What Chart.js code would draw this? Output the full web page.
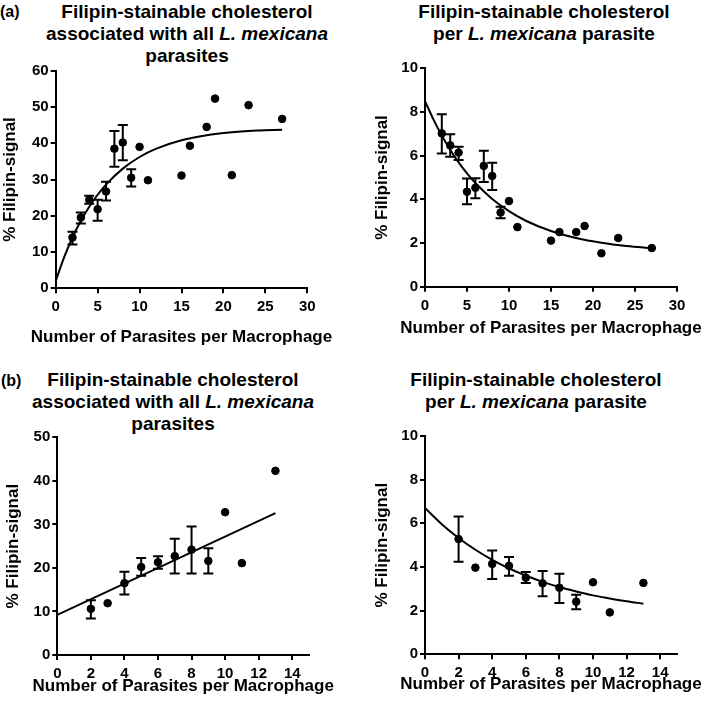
<!DOCTYPE html>
<html>
<head>
<meta charset="utf-8">
<script src="https://cdn.jsdelivr.net/npm/chart.js@4.4.1/dist/chart.umd.min.js"></script>
<style>
  html, body { margin: 0; padding: 0; background: #fff; }
  body { width: 709px; height: 704px; position: relative; overflow: hidden;
         font-family: 'Liberation Sans', Arial, sans-serif; color: #000; }
  .panel { position: absolute; }
  .ttl { position: absolute; font-weight: bold; font-size: 19px; line-height: 22px;
         text-align: center; white-space: nowrap; transform: translateX(-50%); }
  .lbl { position: absolute; font-weight: bold; font-size: 16px; line-height: 20px; }
</style>
</head>
<body>
<div class="lbl" style="left:0px;top:2px;">(a)</div>
<div class="lbl" style="left:1px;top:371px;">(b)</div>
<div class="ttl" style="left:187px;top:1px;">Filipin-stainable cholesterol<br>associated with all <i>L. mexicana</i><br>parasites</div>
<div class="ttl" style="left:544px;top:1px;">Filipin-stainable cholesterol<br>per <i>L. mexicana</i> parasite</div>
<div class="ttl" style="left:173px;top:369px;">Filipin-stainable cholesterol<br>associated with all <i>L. mexicana</i><br>parasites</div>
<div class="ttl" style="left:536px;top:369px;">Filipin-stainable cholesterol<br>per <i>L. mexicana</i> parasite</div>

<div class="panel" style="left:0px;top:50px;"><canvas id="cA1" width="355" height="310"></canvas></div>
<div class="panel" style="left:355px;top:50px;"><canvas id="cA2" width="354" height="310"></canvas></div>
<div class="panel" style="left:0px;top:400px;"><canvas id="cB1" width="355" height="304"></canvas></div>
<div class="panel" style="left:355px;top:400px;"><canvas id="cB2" width="354" height="304"></canvas></div>

<script>
// ---------- DATA ----------
// tick labels
const aXTicks  = [0, 5, 10, 15, 20, 25, 30];
const bXTicks  = [0, 2, 4, 6, 8, 10, 12, 14];
const a1YTicks = [0, 10, 20, 30, 40, 50, 60];
const a2YTicks = [0, 2, 4, 6, 8, 10];
const b1YTicks = [0, 10, 20, 30, 40, 50];
const b2YTicks = [0, 2, 4, 6, 8, 10];

// (a) left: all parasites
const a1X    = [2, 3, 4, 5, 6, 7, 8, 9, 10, 11, 15, 16, 18, 19, 21, 23, 27];
const a1Y    = [14.0, 19.5, 24.4, 21.8, 26.7, 38.5, 40.2, 30.5, 39.0, 29.8, 31.1, 39.3, 44.5, 52.3, 31.2, 50.5, 46.7];
const a1Hi   = [15.6, 20.9, 25.5, 24.4, 29.4, 43.4, 45.0, 32.8, null, null, null, null, null, null, null, null, null];
const a1Lo   = [12.1, 17.9, 23.3, 18.6, 24.2, 33.5, 35.3, 28.1, null, null, null, null, null, null, null, null, null];
const a1FitX = [0, 1, 2, 3, 4, 5, 6, 8, 10, 12, 15, 18, 21, 24, 27];
const a1FitY = [2.0, 8.5, 14.0, 18.6, 22.5, 25.8, 28.6, 33.0, 36.2, 38.5, 40.8, 42.2, 43.0, 43.5, 43.7];

// (a) right: per parasite
const a2X    = [2, 3, 4, 5, 6, 7, 8, 9, 10, 11, 15, 16, 18, 19, 21, 23, 27];
const a2Y    = [7.02, 6.47, 6.14, 4.35, 4.53, 5.53, 5.07, 3.40, 3.92, 2.73, 2.11, 2.50, 2.50, 2.78, 1.53, 2.23, 1.77];
const a2Hi   = [7.90, 6.98, 6.41, 4.95, 4.96, 6.23, 5.68, 3.66, null, null, null, null, null, null, null, null, null];
const a2Lo   = [6.10, 5.95, 5.80, 3.77, 4.05, 4.79, 4.43, 3.13, null, null, null, null, null, null, null, null, null];
const a2FitX = [0, 1, 2, 3, 4, 5, 6, 8, 10, 12, 15, 18, 21, 24, 27];
const a2FitY = [8.50, 7.66, 6.92, 6.27, 5.69, 5.19, 4.75, 4.02, 3.46, 3.02, 2.55, 2.23, 2.01, 1.86, 1.76];

// (b) left: all parasites
const b1X    = [2, 3, 4, 5, 6, 7, 8, 9, 10, 11, 13];
const b1Y    = [10.6, 11.9, 16.5, 20.2, 21.3, 22.7, 24.2, 21.6, 32.8, 21.1, 42.3];
const b1Hi   = [12.6, null, 19.1, 22.3, 22.7, 26.7, 29.5, 24.5, null, null, null];
const b1Lo   = [8.4, null, 13.9, 18.2, 19.8, 18.7, 18.7, 18.7, null, null, null];
const b1FitX = [0, 13];
const b1FitY = [9.2, 32.6];

// (b) right: per parasite
const b2X    = [2, 3, 4, 5, 6, 7, 8, 9, 10, 11, 13];
const b2Y    = [5.28, 3.97, 4.14, 4.05, 3.51, 3.25, 3.05, 2.41, 3.30, 1.92, 3.27];
const b2Hi   = [6.31, null, 4.76, 4.46, 3.77, 3.82, 3.69, 2.73, null, null, null];
const b2Lo   = [4.24, null, 3.45, 3.60, 3.27, 2.66, 2.35, 2.06, null, null, null];
const b2FitX = [0, 1, 2, 3, 4, 5, 6, 7, 8, 9, 10, 11, 12, 13];
const b2FitY = [6.70, 5.96, 5.33, 4.79, 4.33, 3.94, 3.61, 3.32, 3.08, 2.88, 2.70, 2.56, 2.43, 2.32];

const xTitle = 'Number of Parasites per Macrophage';
const yTitle = '% Filipin-signal';

// ---------- RENDERING ----------
const FAMILY = "'Liberation Sans', Arial, sans-serif";
Chart.defaults.font.family = FAMILY;
Chart.defaults.font.weight = 'bold';
Chart.defaults.color = '#000';

const errorBars = {
  id: 'errorBars',
  afterDatasetsDraw(chart) {
    const ds = chart.data.datasets[0];
    if (!ds.errHi) return;
    const meta = chart.getDatasetMeta(0);
    const ys = chart.scales.y;
    const ctx = chart.ctx;
    ctx.save();
    ctx.strokeStyle = '#000';
    ctx.lineWidth = 2;
    meta.data.forEach((pt, i) => {
      const hi = ds.errHi[i], lo = ds.errLo[i];
      if (hi == null || lo == null) return;
      const x = pt.x;
      const yh = ys.getPixelForValue(hi), yl = ys.getPixelForValue(lo);
      ctx.beginPath();
      ctx.moveTo(x, yh); ctx.lineTo(x, yl);
      ctx.moveTo(x - 5, yh); ctx.lineTo(x + 5, yh);
      ctx.moveTo(x - 5, yl); ctx.lineTo(x + 5, yl);
      ctx.stroke();
    });
    ctx.restore();
  }
};

// Axis titles drawn without the maxWidth squeeze Chart.js applies to scale titles
const axisTitles = {
  id: 'axisTitles',
  afterDraw(chart) {
    const ctx = chart.ctx, ca = chart.chartArea;
    const xs = chart.scales.x, ys = chart.scales.y;
    ctx.save();
    ctx.fillStyle = '#000';
    ctx.font = 'bold 17px ' + FAMILY;
    ctx.textAlign = 'center';
    ctx.textBaseline = 'middle';
    ctx.fillText(xTitle, (ca.left + ca.right) / 2, xs.bottom - 10.2);
    ctx.translate(ys.left + 10.2, (ca.top + ca.bottom) / 2);
    ctx.rotate(-Math.PI / 2);
    ctx.fillText(yTitle, 0, 0);
    ctx.restore();
  }
};

function makeChart(id, cfg) {
  const pts = cfg.x.map((v, i) => ({x: v, y: cfg.y[i]}));
  const fit = cfg.fitX.map((v, i) => ({x: v, y: cfg.fitY[i]}));
  new Chart(document.getElementById(id), {
    type: 'scatter',
    data: {
      datasets: [
        { data: pts, errHi: cfg.hi, errLo: cfg.lo, backgroundColor: '#000', borderColor: '#000',
          pointRadius: 3.8, pointBorderWidth: 1, pointHoverRadius: 3.8, clip: false, order: 1 },
        { type: 'line', data: fit, borderColor: '#000', borderWidth: 2, pointRadius: 0,
          fill: false, cubicInterpolationMode: 'monotone', clip: false, order: 2 }
      ]
    },
    options: {
      responsive: false,
      animation: false,
      events: [],
      layout: { padding: cfg.pad },
      plugins: { legend: { display: false }, tooltip: { enabled: false } },
      scales: {
        x: {
          type: 'linear', min: 0, max: cfg.xMax,
          afterFit: s => { s.height = cfg.xH; },
          afterBuildTicks: s => { s.ticks = cfg.xTicks.map(v => ({ value: v })); },
          ticks: { padding: cfg.xTickPad, font: { size: 15, weight: 'bold' }, color: '#000', maxRotation: 0, autoSkip: false },
          grid: { drawOnChartArea: false, drawTicks: true, tickLength: 5, color: '#000', lineWidth: 2 },
          border: { display: true, color: '#000', width: 2 },
          title: { display: false }
        },
        y: {
          type: 'linear', min: 0, max: cfg.yMax,
          afterFit: s => { s.width = cfg.yW; },
          afterBuildTicks: s => { s.ticks = cfg.yTicks.map(v => ({ value: v })); },
          ticks: { padding: 2, font: { size: 15, weight: 'bold' }, color: '#000', autoSkip: false },
          grid: { drawOnChartArea: false, drawTicks: true, tickLength: 5, color: '#000', lineWidth: 2 },
          border: { display: true, color: '#000', width: 2 },
          title: { display: false }
        }
      }
    },
    plugins: [errorBars, axisTitles]
  });
}

makeChart('cA1', { x: a1X, y: a1Y, hi: a1Hi, lo: a1Lo, fitX: a1FitX, fitY: a1FitY,
  xMax: 30, xTicks: aXTicks, yMax: 60, yTicks: a1YTicks, xTickPad: 5,
  pad: { top: 20.7, left: 0, right: 47.7, bottom: 12.8 }, yW: 55.7, xH: 58.9 });
makeChart('cA2', { x: a2X, y: a2Y, hi: a2Hi, lo: a2Lo, fitX: a2FitX, fitY: a2FitY,
  xMax: 30, xTicks: aXTicks, yMax: 10, yTicks: a2YTicks, xTickPad: 5,
  pad: { top: 18.3, left: 16.8, right: 32, bottom: 21.8 }, yW: 53.2, xH: 51.5 });
makeChart('cB1', { x: b1X, y: b1Y, hi: b1Hi, lo: b1Lo, fitX: b1FitX, fitY: b1FitY,
  xMax: 15, xTicks: bXTicks, yMax: 50, yTicks: b1YTicks, xTickPad: 5,
  pad: { top: 37.3, left: 2.8, right: 46, bottom: 7.8 }, yW: 54.5, xH: 41.2 });
makeChart('cB2', { x: b2X, y: b2Y, hi: b2Hi, lo: b2Lo, fitX: b2FitX, fitY: b2FitY,
  xMax: 15, xTicks: bXTicks, yMax: 10, yTicks: b2YTicks, xTickPad: 5,
  pad: { top: 36, left: 16.8, right: 32, bottom: 9.8 }, yW: 53.2, xH: 39.9 });
</script>
</body>
</html>
